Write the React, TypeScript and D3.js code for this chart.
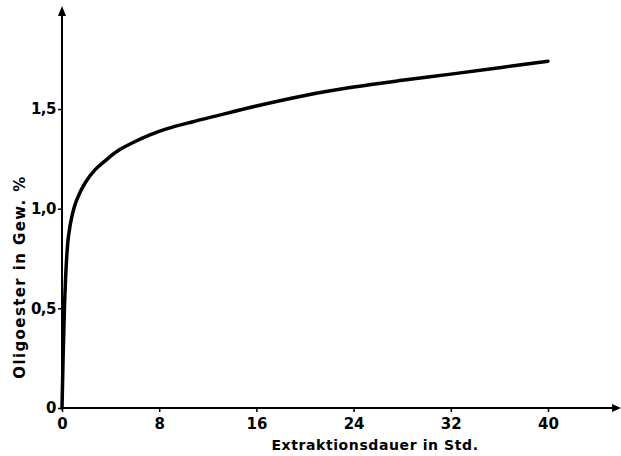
import React, { useEffect, useRef } from 'react'
import * as d3 from 'd3'

// Extraktionsdauer (Std.) und Oligoester-Gehalt (Gew. %)
const hours = [0, 0.2, 0.39, 0.53, 0.81, 1.22, 1.91, 2.73, 3.55, 4.54, 5.9, 7.24, 8.6, 10.7, 12.8, 16, 20, 24, 28, 32, 36, 40]
const oligo = [0, 0.5, 0.76, 0.86, 0.96, 1.045, 1.13, 1.196, 1.24, 1.288, 1.333, 1.37, 1.4, 1.435, 1.467, 1.515, 1.568, 1.61, 1.644, 1.675, 1.707, 1.74]
const xTicks = [0, 8, 16, 24, 32, 40]
const yTicks = [0, 0.5, 1.0, 1.5]
const yTickLabels = ['0', '0,5', '1,0', '1,5']

const W = 621
const H = 456
const FONT = '"DejaVu Sans", sans-serif'

export default function App() {
  const ref = useRef<SVGSVGElement>(null)

  useEffect(() => {
    const svg = d3.select(ref.current)
    svg.selectAll('*').remove()

    const x = d3.scaleLinear().domain([0, 40]).range([62, 548])
    const y = d3.scaleLinear().domain([0, 1.5]).range([408, 109])

    // y axis line with arrow
    svg.append('line')
      .attr('x1', x(0)).attr('x2', x(0))
      .attr('y1', y(0)).attr('y2', 14)
      .attr('stroke', '#000').attr('stroke-width', 2)
    svg.append('path')
      .attr('d', `M${x(0) - 4},16 L${x(0)},6 L${x(0) + 4},16 Z`)
      .attr('fill', '#000')

    // x axis line with arrow
    svg.append('line')
      .attr('x1', x(0)).attr('x2', 614)
      .attr('y1', y(0)).attr('y2', y(0))
      .attr('stroke', '#000').attr('stroke-width', 2)
    svg.append('path')
      .attr('d', `M612,${y(0) - 4} L621,${y(0)} L612,${y(0) + 4} Z`)
      .attr('fill', '#000')

    const yAxis = d3.axisLeft(y)
      .tickValues(yTicks)
      .tickFormat((d, i) => yTickLabels[i])
      .tickSize(4)
      .tickPadding(2)
    const gy = svg.append('g').attr('transform', `translate(${x(0)},0)`).call(yAxis)
    gy.select('.domain').remove()
    gy.selectAll('line').attr('stroke', '#000').attr('stroke-width', 1.5)
    gy.selectAll('text')
      .attr('font-family', FONT).attr('font-size', 15).attr('font-weight', 'bold')
      .attr('fill', '#000').attr('letter-spacing', -0.5)

    const xAxis = d3.axisBottom(x)
      .tickValues(xTicks)
      .tickFormat(d3.format('d'))
      .tickSize(4)
      .tickPadding(6)
    const gx = svg.append('g').attr('transform', `translate(0,${y(0)})`).call(xAxis)
    gx.select('.domain').remove()
    gx.selectAll('line').attr('stroke', '#000').attr('stroke-width', 1.5)
    gx.selectAll('text')
      .attr('font-family', FONT).attr('font-size', 15).attr('font-weight', 'bold')
      .attr('fill', '#000')

    // curve
    const line = d3.line<number>()
      .x((d, i) => x(hours[i]))
      .y(d => y(d))
      .curve(d3.curveCatmullRom.alpha(0.5))
    svg.append('path')
      .datum(oligo)
      .attr('d', line)
      .attr('fill', 'none')
      .attr('stroke', '#000')
      .attr('stroke-width', 3.5)
      .attr('stroke-linecap', 'round')

    // axis titles
    svg.append('text')
      .attr('x', 375).attr('y', 450)
      .attr('text-anchor', 'middle')
      .attr('font-family', FONT).attr('font-size', 14).attr('font-weight', 'bold')
      .attr('letter-spacing', 0.6)
      .text('Extraktionsdauer in Std.')
    svg.append('text')
      .attr('transform', 'translate(25,277) rotate(-90)')
      .attr('text-anchor', 'middle')
      .attr('font-family', FONT).attr('font-size', 15).attr('font-weight', 'bold')
      .attr('letter-spacing', 1.4)
      .text('Oligoester in Gew. %')
  }, [])

  return (
    <div style={{ position: 'absolute', left: 0, top: 0 }}>
      <svg ref={ref} width={W} height={H} style={{ display: 'block', background: '#fff' }} />
    </div>
  )
}
